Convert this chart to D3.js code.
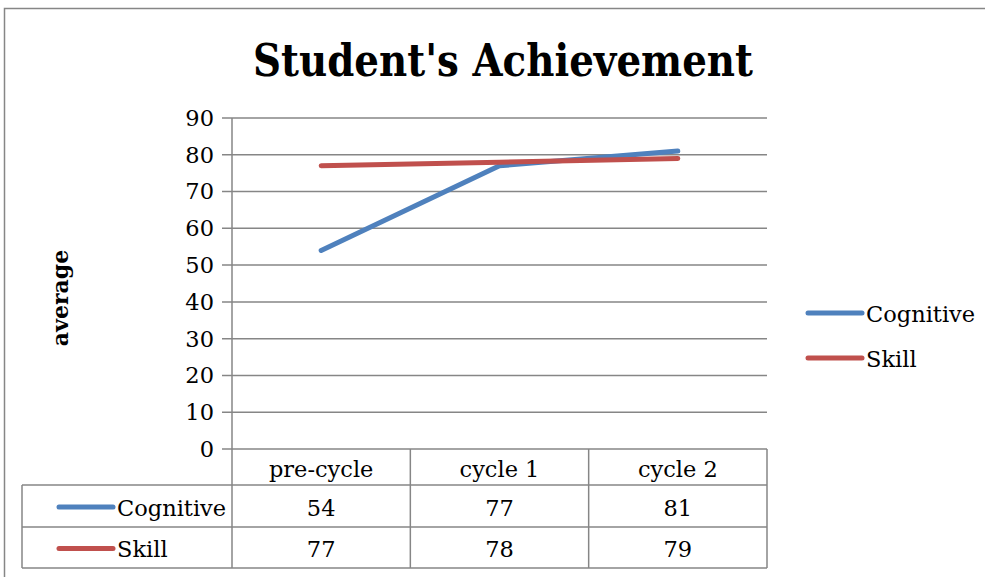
<!DOCTYPE html>
<html>
<head>
<meta charset="utf-8">
<script src="https://cdn.jsdelivr.net/npm/d3@7/dist/d3.min.js"></script>
<style>
  body { margin: 0; background: #fff; }
  text { font-family: "DejaVu Serif", "Liberation Serif", serif; fill: #000; }
</style>
</head>
<body>
<div id="chart"></div>
<script>
var categories = ["pre-cycle", "cycle 1", "cycle 2"];
var seriesNames = ["Cognitive", "Skill"];
var cognitive = [54, 77, 81];
var skill = [77, 78, 79];
var yTicks = [0, 10, 20, 30, 40, 50, 60, 70, 80, 90];

var colors = { "Cognitive": "#4F81BD", "Skill": "#C0504D" };
var series = [
    { name: "Cognitive", values: cognitive },
    { name: "Skill", values: skill }
];

var W = 985, H = 577;
var margin = { top: 118, left: 232, right: 218, bottom: 128 },
    width = W - margin.left - margin.right,
    height = H - margin.top - margin.bottom;

var fs = "22.5px";

var svg = d3.select("#chart")
    .append("svg")
    .attr("width", W)
    .attr("height", H);

// chart border
svg.append("rect")
    .attr("x", 4.5).attr("y", 8.5)
    .attr("width", W + 10).attr("height", H + 10)
    .attr("fill", "none")
    .attr("stroke", "#868686")
    .attr("stroke-width", 1.5);

// title
svg.append("text")
    .attr("x", 503).attr("y", 76)
    .attr("text-anchor", "middle")
    .attr("textLength", 500)
    .attr("lengthAdjust", "spacingAndGlyphs")
    .style("font-size", "45px")
    .style("font-weight", "bold")
    .text("Student's Achievement");

// y label
svg.append("text")
    .attr("transform", "translate(68,298) rotate(-90)")
    .attr("text-anchor", "middle")
    .style("font-size", "22px")
    .style("font-weight", "bold")
    .text("average");

var g = svg.append("g")
    .attr("transform", "translate(" + margin.left + "," + margin.top + ")");

var x = d3.scaleBand()
    .domain(categories)
    .range([0, width]);

var y = d3.scaleLinear()
    .domain([0, 90])
    .range([height, 0]);

// gridlines
g.append("g")
    .selectAll("line.grid")
    .data(yTicks)
    .enter()
    .append("line")
    .attr("class", "grid")
    .attr("x1", -10)
    .attr("x2", width)
    .attr("y1", function (d) { return y(d) })
    .attr("y2", function (d) { return y(d) })
    .attr("stroke", "#868686")
    .attr("stroke-width", 1.5);

// y tick labels
g.append("g")
    .selectAll("text.ytick")
    .data(yTicks)
    .enter()
    .append("text")
    .attr("class", "ytick")
    .attr("x", -18)
    .attr("y", function (d) { return y(d) })
    .attr("dy", "0.35em")
    .attr("text-anchor", "end")
    .style("font-size", fs)
    .text(function (d) { return d });

// y axis line
g.append("line")
    .attr("x1", 0).attr("x2", 0)
    .attr("y1", 0).attr("y2", height)
    .attr("stroke", "#868686")
    .attr("stroke-width", 1.5);

// data table
var rowH = [36, 42, 41];
var tableLeft = 22 - margin.left;
var tableTop = height;
var tableBottom = height + rowH[0] + rowH[1] + rowH[2];
var tg = g.append("g").attr("class", "table");

// vertical lines at band edges
var edges = categories.map(function (c) { return x(c) }).concat([width]);
tg.selectAll("line.vcol")
    .data(edges)
    .enter()
    .append("line")
    .attr("x1", function (d) { return d })
    .attr("x2", function (d) { return d })
    .attr("y1", tableTop)
    .attr("y2", tableBottom)
    .attr("stroke", "#868686")
    .attr("stroke-width", 1.5);

// left edge of series rows
tg.append("line")
    .attr("x1", tableLeft).attr("x2", tableLeft)
    .attr("y1", tableTop + rowH[0]).attr("y2", tableBottom)
    .attr("stroke", "#868686").attr("stroke-width", 1.5);

// horizontal row lines
var rowLines = [
    { y: tableTop + rowH[0], x1: tableLeft },
    { y: tableTop + rowH[0] + rowH[1], x1: tableLeft },
    { y: tableBottom, x1: tableLeft }
];
tg.selectAll("line.hrow")
    .data(rowLines)
    .enter()
    .append("line")
    .attr("x1", function (d) { return d.x1 })
    .attr("x2", width)
    .attr("y1", function (d) { return d.y })
    .attr("y2", function (d) { return d.y })
    .attr("stroke", "#868686")
    .attr("stroke-width", 1.5);

// category labels
tg.selectAll("text.cat")
    .data(categories)
    .enter()
    .append("text")
    .attr("x", function (d) { return x(d) + x.bandwidth() / 2 })
    .attr("y", tableTop + rowH[0] / 2 + 2)
    .attr("dy", "0.35em")
    .attr("text-anchor", "middle")
    .style("font-size", fs)
    .text(function (d) { return d });

// series rows
series.forEach(function (s, i) {
    var cy = tableTop + rowH[0] + (i === 0 ? rowH[1] / 2 : rowH[1] + rowH[2] / 2);
    tg.append("line")
        .attr("x1", tableLeft + 37).attr("x2", tableLeft + 91)
        .attr("y1", cy + 1).attr("y2", cy + 1)
        .attr("stroke", colors[s.name])
        .attr("stroke-width", 5)
        .attr("stroke-linecap", "round");
    tg.append("text")
        .attr("x", tableLeft + 95)
        .attr("y", cy + 2)
        .attr("dy", "0.35em")
        .style("font-size", fs)
        .text(s.name);
    tg.selectAll("text.val" + i)
        .data(s.values)
        .enter()
        .append("text")
        .attr("x", function (d, j) { return x(categories[j]) + x.bandwidth() / 2 })
        .attr("y", cy + 2)
        .attr("dy", "0.35em")
        .attr("text-anchor", "middle")
        .style("font-size", fs)
        .text(function (d) { return d });
});

// lines
var line = d3.line()
    .x(function (d, i) { return x(categories[i]) + x.bandwidth() / 2 })
    .y(function (d) { return y(d) });

g.append("g")
    .selectAll("path.series")
    .data(series)
    .enter()
    .append("path")
    .attr("class", "series")
    .attr("fill", "none")
    .attr("stroke", function (d) { return colors[d.name] })
    .attr("stroke-width", 5)
    .attr("stroke-linecap", "round")
    .attr("d", function (d) { return line(d.values) });

// legend
var legend = svg.append("g")
    .selectAll("g.legend")
    .data(seriesNames)
    .enter()
    .append("g")
    .attr("transform", function (d, i) { return "translate(808," + (313 + i * 45) + ")" });
legend.append("line")
    .attr("x1", 0).attr("x2", 54)
    .attr("y1", 0).attr("y2", 0)
    .attr("stroke", function (d) { return colors[d] })
    .attr("stroke-width", 5)
    .attr("stroke-linecap", "round");
legend.append("text")
    .attr("x", 58)
    .attr("y", 1)
    .attr("dy", "0.35em")
    .style("font-size", fs)
    .text(function (d) { return d });
</script>
</body>
</html>
